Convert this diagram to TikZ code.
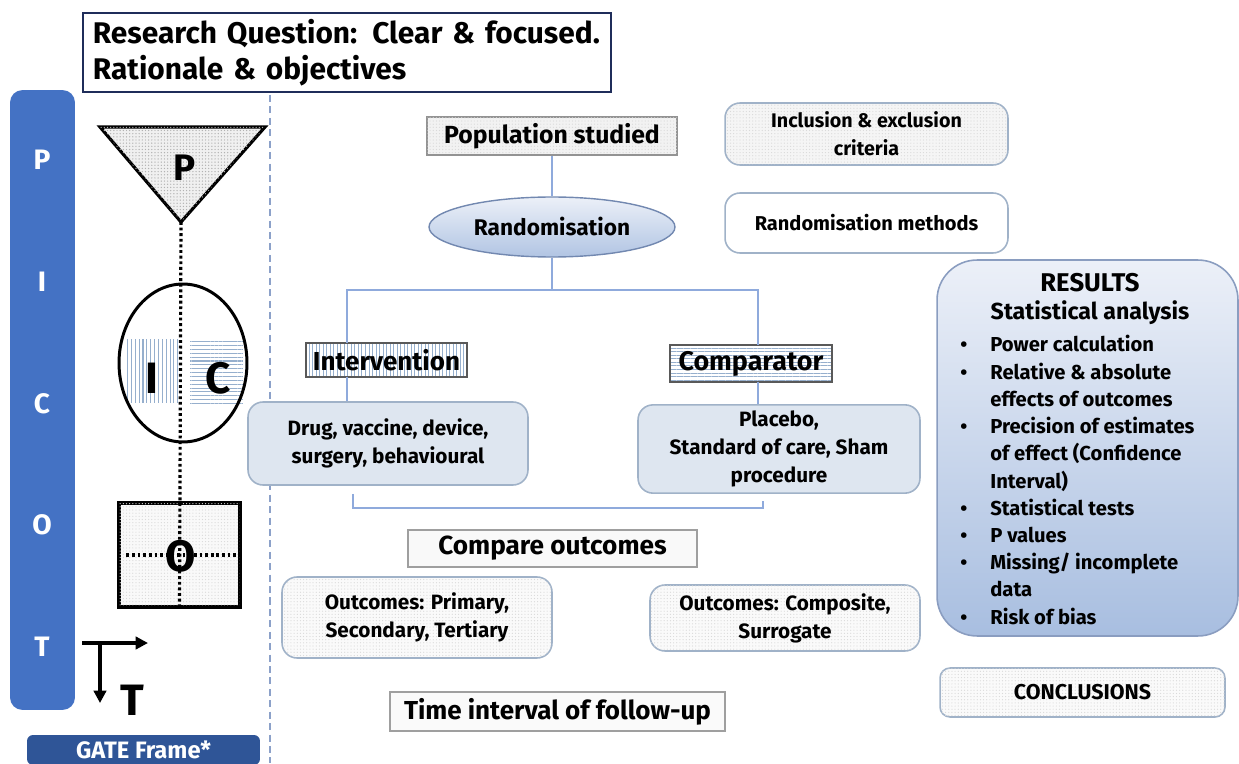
\documentclass[tikz,border=0pt]{standalone}
\usepackage{fontspec}
\setmainfont{Fira Sans}
\usetikzlibrary{shapes.geometric,patterns.meta,arrows.meta,calc}

\definecolor{picotblue}{RGB}{68,114,196}
\definecolor{gateblue}{RGB}{47,85,151}
\definecolor{titlenavy}{RGB}{31,45,90}
\definecolor{linkblue}{RGB}{143,170,220}
\definecolor{boxfill}{RGB}{222,230,240}
\definecolor{boxedge}{RGB}{160,178,200}
\definecolor{hatchblue}{RGB}{150,175,205}
\definecolor{restop}{RGB}{236,240,248}
\definecolor{resbot}{RGB}{168,190,224}

\tikzset{
  link/.style={draw=linkblue, line width=1.1pt},
  dots/.style={postaction={pattern={Dots[distance=1.8pt,radius=0.35pt]}, pattern color=gray!30}},
  softbox/.style={draw=boxedge, line width=0.9pt, rounded corners=0.3cm, align=center,
    font=\fontsize{11.8}{16}\selectfont\bfseries},
  plainbox/.style={draw=gray!85, line width=0.9pt, align=center},
  bigletter/.style={font=\fontsize{25}{25}\selectfont\bfseries},
  picotletter/.style={text=white, font=\fontsize{16}{16}\selectfont\bfseries},
  heavydots/.style={line width=1.8pt, dash pattern=on 1.6pt off 1.6pt}
}

\begin{document}
\begin{tikzpicture}[x=0.02cm, y=-0.02cm]
\useasboundingbox (0,0) rectangle (1239,763);

% title
\node[draw=titlenavy, line width=1.1pt, anchor=north west, text width=10.16cm, inner xsep=0.2cm,
  minimum height=1.52cm, align=left, font=\fontsize{17}{21}\selectfont\bfseries]
  (title) at (82,12) {Research Question: Clear \& focused.\\Rationale \& objectives};

% PICOT bar
\node[fill=picotblue, rounded corners=0.25cm, minimum width=1.3cm, minimum height=12.4cm] (picot) at (42.5,400) {};
\node[picotletter] (lp) at (42,160) {P};
\node[picotletter] (li) at (42,282) {I};
\node[picotletter] (lc) at (42,404) {C};
\node[picotletter] (lo) at (42,525) {O};
\node[picotletter] (lt) at (42,647) {T};
\node[fill=gateblue, rounded corners=0.12cm, minimum width=4.66cm, minimum height=0.6cm, text=white,
  font=\fontsize{13.5}{13.5}\selectfont\bfseries] (gate) at (143.5,750) {GATE Frame*};
\draw[draw=linkblue!80!gray, line width=0.6pt, dash pattern=on 4pt off 2.5pt] (270,95) -- (270,763);

% GATE frame shapes
\coordinate (ptl) at (100,127);
\coordinate (ptr) at (265,127);
\coordinate (ptip) at (181,222);
\filldraw[fill=gray!12, draw=black, line width=1.8pt, postaction={pattern={Dots[distance=1.8pt,radius=0.4pt]}, pattern color=gray!60}]
  (ptl) -- (ptr) -- (ptip) -- cycle;
\node[draw=none, pattern={Lines[angle=90,distance=2.2pt,line width=0.6pt]}, pattern color=hatchblue,
  minimum width=1.08cm, minimum height=1.28cm] (ibox) at (151,371) {};
\node[draw=none, pattern={Lines[angle=0,distance=2.2pt,line width=0.6pt]}, pattern color=hatchblue,
  minimum width=1.06cm, minimum height=1.32cm] (cbox) at (216.5,373) {};
\node[draw=black, ellipse, line width=1.7pt, minimum width=2.56cm, minimum height=3.16cm] (icring) at (183,363) {};
\node[draw=black, line width=1.8pt, fill=gray!5, dots, minimum width=2.42cm, minimum height=2.08cm] (obox) at (179.5,555) {};
\draw[heavydots] (ptip) -- (obox.south);
\draw[heavydots] ($(obox.west)+(9,0)$) -- (obox.east);
\node[font=\fontsize{21}{21}\selectfont\bfseries] (pp) at (185,168) {P};
\node[bigletter] (pi) at (152,378) {I};
\node[bigletter] (pc) at (218,378) {C};
\node[bigletter] (po) at (181,556) {O};
\coordinate (tcorner) at (100,643);
\coordinate (tright) at (148,643);
\coordinate (tdown) at (100,703);
\draw[line width=1.8pt, -{Triangle[length=7pt,width=7pt]}] (82,643) -- (tright);
\draw[line width=1.8pt, -{Triangle[length=7pt,width=7pt]}] (tcorner) -- (tdown);
\node[bigletter] (pt) at (132,700) {T};

% trial flow
\node[plainbox, fill=gray!10, dots, minimum width=5cm, minimum height=0.76cm,
  font=\fontsize{14.1}{14.1}\selectfont\bfseries] (pop) at (552,136) {Population studied};
\node[ellipse, draw=linkblue!80!black, line width=0.8pt, top color=restop, bottom color=resbot!90,
  minimum width=4.92cm, minimum height=1.2cm, font=\fontsize{12.9}{12.9}\selectfont\bfseries] (rand) at (552,227) {Randomisation};
\node[plainbox, draw=gray!70!black, fill=white, pattern={Lines[angle=90,distance=2pt,line width=0.5pt]}, pattern color=hatchblue,
  minimum width=3.22cm, minimum height=0.68cm] (interv) at (386.5,360) {};
\node[font=\fontsize{14.8}{14.8}\selectfont\bfseries] at (interv) {Intervention};
\node[plainbox, draw=gray!70!black, pattern={Lines[angle=0,distance=2pt,line width=0.5pt]}, pattern color=hatchblue,
  minimum width=3.24cm, minimum height=0.74cm] (comp) at (751,363.5) {};
\node[font=\fontsize{15.3}{15.3}\selectfont\bfseries] at (comp) {Comparator};
\node[softbox, fill=boxfill, minimum width=5.6cm, minimum height=1.66cm, font=\fontsize{11.8}{15.5}\selectfont\bfseries] (drug) at (388,443.5)
  {Drug, vaccine, device,\\surgery, behavioural};
\node[softbox, fill=boxfill, minimum width=5.64cm, minimum height=1.64cm] (plac) at (779,449)
  {Placebo,\\Standard of care, Sham\\procedure};
\coordinate (lbranch) at (347,290);
\coordinate (rbranch) at (758,290);
\coordinate (ljoin) at (353,508);
\coordinate (rjoin) at (763,508);
\draw[link] (pop) -- (rand);
\draw[link] (rand) -- (rand |- lbranch);
\draw[link] (lbranch |- interv.north) -- (lbranch) -- (rbranch) -- (rbranch |- comp.north);
\draw[link] (lbranch |- interv.south) -- (lbranch |- drug.north);
\draw[link] (rbranch |- comp.south) -- (rbranch |- plac.north);
\draw[link] ($(ljoin |- drug.south)+(0,8)$) -- (ljoin) -- (rjoin) -- ($(rjoin |- plac.south)+(0,7)$);

\node[plainbox, draw=gray!75, fill=gray!5, minimum width=5.78cm, minimum height=0.74cm,
  font=\fontsize{14.9}{14.9}\selectfont\bfseries] (compare) at (552.5,548.5) {Compare outcomes};
\node[softbox, fill=gray!4, dots, minimum width=5.4cm, minimum height=1.62cm] (outp) at (417,617.5)
  {Outcomes: Primary,\\Secondary, Tertiary};
\node[softbox, fill=gray!4, dots, minimum width=5.4cm, minimum height=1.32cm] (outc) at (785,618)
  {Outcomes: Composite,\\Surrogate};
\node[plainbox, draw=gray!75, fill=gray!4, minimum width=6.7cm, minimum height=0.78cm,
  font=\fontsize{14.8}{14.8}\selectfont\bfseries] (followup) at (557.5,711.5) {Time interval of follow-up};

% right column
\node[softbox, fill=gray!8, dots, minimum width=5.66cm, minimum height=1.24cm, font=\fontsize{11.2}{16}\selectfont\bfseries] (incl) at (866.5,134)
  {Inclusion \& exclusion\\criteria};
\node[softbox, fill=white, minimum width=5.66cm, minimum height=1.2cm, font=\fontsize{11.4}{11.4}\selectfont\bfseries] (rmeth) at (866.5,223)
  {Randomisation methods};
\node[draw=linkblue!70!gray, line width=0.9pt, rounded corners=0.8cm, top color=restop, bottom color=resbot,
  minimum width=6.02cm, minimum height=7.52cm] (results) at (1087.5,448) {};
\node[font=\fontsize{14.6}{14.6}\selectfont\bfseries] (restitle) at (1090,283) {RESULTS};
\node[font=\fontsize{13.2}{13.2}\selectfont\bfseries] (resstat) at (1090,313) {Statistical analysis};
\node[anchor=west, align=left, inner sep=0pt, font=\fontsize{11.5}{15.5}\selectfont\bfseries] (reslist) at (960,480)
  {\makebox[0.6cm][l]{\textbullet}Power calculation\\
   \makebox[0.6cm][l]{\textbullet}Relative \& absolute\\
   \hspace*{0.6cm}effects of outcomes\\
   \makebox[0.6cm][l]{\textbullet}Precision of estimates\\
   \hspace*{0.6cm}of effect (Confidence\\
   \hspace*{0.6cm}Interval)\\
   \makebox[0.6cm][l]{\textbullet}Statistical tests\\
   \makebox[0.6cm][l]{\textbullet}P values\\
   \makebox[0.6cm][l]{\textbullet}Missing/ incomplete\\
   \hspace*{0.6cm}data\\
   \makebox[0.6cm][l]{\textbullet}Risk of bias};
\node[softbox, rounded corners=0.2cm, fill=gray!4, dots, minimum width=5.7cm, minimum height=0.98cm, font=\fontsize{12.2}{12.2}\selectfont\bfseries] (concl) at (1082.5,692.5)
  {CONCLUSIONS};
\end{tikzpicture}
\end{document}
